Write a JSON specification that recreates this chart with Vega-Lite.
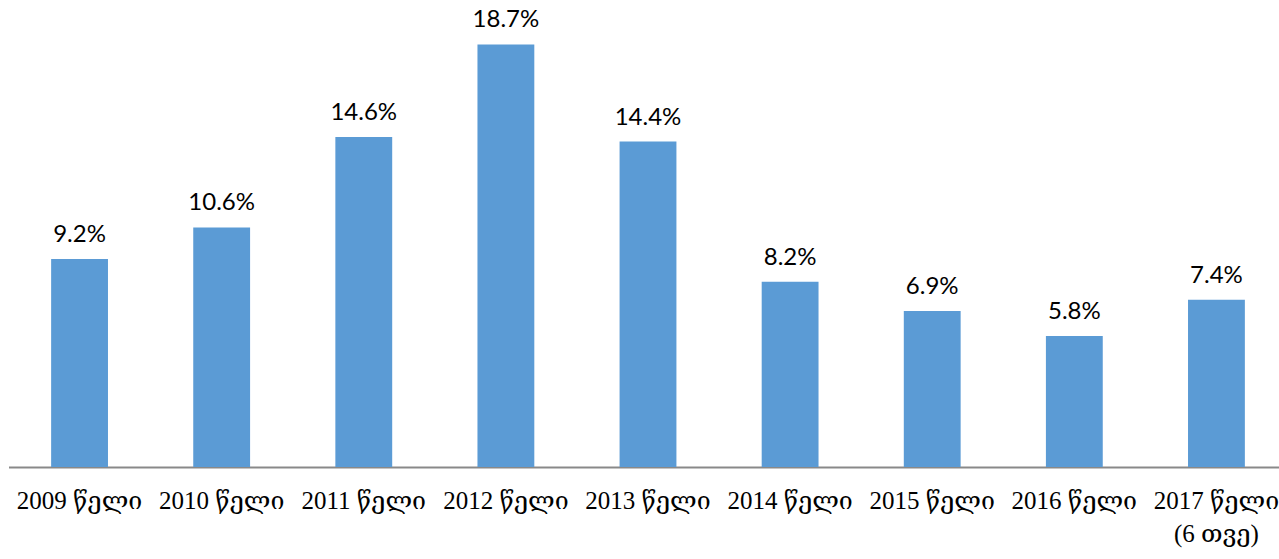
{
  "$schema": "https://vega.github.io/schema/vega-lite/v6.json",
  "autosize": {"type": "none"},
  "width": 1279,
  "height": 452,
  "padding": {"left": 8.5, "top": 15, "right": 0, "bottom": 92},
  "background": "white",
  "config": {"view": {"stroke": null}},
  "data": {"values": [
    {"year": "2009 წელი", "value": 9.2, "label": "9.2%"},
    {"year": "2010 წელი", "value": 10.6, "label": "10.6%"},
    {"year": "2011 წელი", "value": 14.6, "label": "14.6%"},
    {"year": "2012 წელი", "value": 18.7, "label": "18.7%"},
    {"year": "2013 წელი", "value": 14.4, "label": "14.4%"},
    {"year": "2014 წელი", "value": 8.2, "label": "8.2%"},
    {"year": "2015 წელი", "value": 6.9, "label": "6.9%"},
    {"year": "2016 წელი", "value": 5.8, "label": "5.8%"},
    {"year": "2017 წელი\n(6 თვე)", "value": 7.4, "label": "7.4%"}
  ]},
  "encoding": {
    "x": {
      "field": "year", "type": "nominal", "sort": null,
      "scale": {"paddingInner": 0.6, "paddingOuter": 0.3},
      "axis": {
        "title": null, "labelAngle": 0, "ticks": false, "grid": false,
        "domainColor": "#898989", "domainWidth": 2,
        "labelFont": "Liberation Serif, DejaVu Serif", "labelFontSize": 25, "labelFontWeight": "normal", "labelColor": "#000000",
        "labelPadding": 21, "labelLineHeight": 33,
        "labelExpr": "split(datum.label, '\\n')",
        "labelOverlap": false, "labelBound": false, "labelFlush": false, "labelLimit": 0
      }
    },
    "y": {
      "field": "value", "type": "quantitative",
      "scale": {"domain": [0, 20], "nice": false, "zero": true},
      "axis": null
    }
  },
  "layer": [
    {"mark": {"type": "bar", "color": "#5B9BD5"}},
    {
      "mark": {"type": "text", "baseline": "alphabetic", "dy": -17, "font": "Lato", "fontSize": 24, "color": "#000000"},
      "encoding": {"text": {"field": "label", "type": "nominal"}}
    }
  ]
}
